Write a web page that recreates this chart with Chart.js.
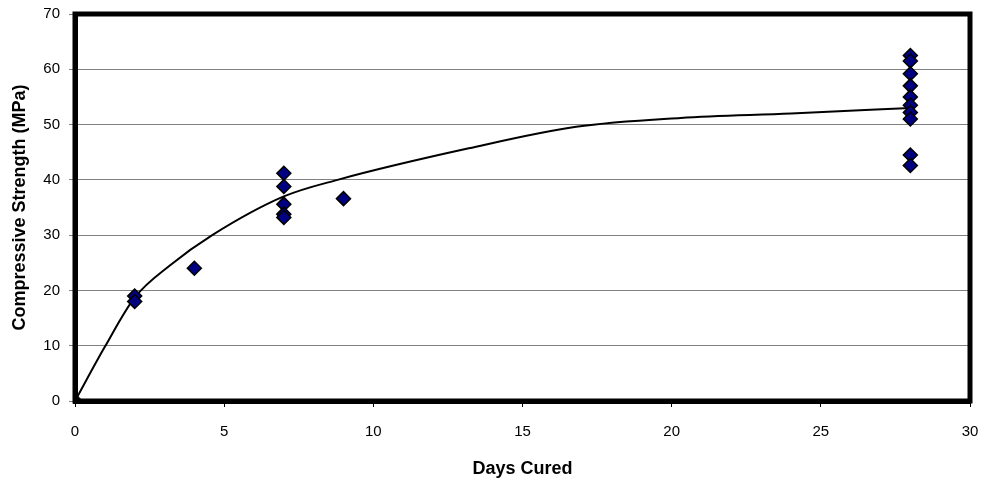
<!DOCTYPE html>
<html>
<head>
<meta charset="utf-8">
<script src="https://cdn.jsdelivr.net/npm/chart.js@4"></script>
<style>
  html, body { margin: 0; padding: 0; background: #fff; }
  #wrap { width: 984px; height: 486px; }
</style>
</head>
<body>
<div id="wrap"><canvas id="chart"></canvas></div>
<script>
// measured specimens
const testDays = [0, 2, 2, 4, 7, 7, 7, 7, 7, 9,
  28, 28, 28, 28, 28, 28, 28, 28, 28, 28];
const strengths = [0, 19, 18, 24, 41.2, 38.8, 35.6, 33.8, 33.2, 36.6,
  62.5, 61.5, 59.2, 57, 55, 53.5, 52.2, 51, 44.5, 42.6];

// smoothed trend curve
const curveDays = [0, 1, 2, 3.2, 4.6, 7, 8.8, 13.2, 16.8, 20.3, 24, 28];
const curveValues = [0, 9.8, 18.7, 24.6, 30, 37, 40, 45.7, 49.6, 51.2, 52, 53];

const xTicks = [0, 5, 10, 15, 20, 25, 30];
const yTicks = [0, 10, 20, 30, 40, 50, 60, 70];

const FONT = "'Liberation Sans Narrow', 'Arial Narrow', 'Liberation Sans', Arial, sans-serif";

// thick frame round the plot area
const framePlugin = {
  id: "frame",
  afterDatasetsDraw(chart) {
    const a = chart.chartArea;
    const ctx = chart.ctx;
    ctx.save();
    ctx.strokeStyle = "#000";
    ctx.lineWidth = 5;
    ctx.strokeRect(a.left, a.top, a.right - a.left, a.bottom - a.top);
    ctx.restore();
  }
};

new Chart(document.getElementById("chart"), {
  type: "scatter",
  data: {
    datasets: [
      {
        label: "Measured",
        data: testDays.map((d, i) => ({ x: d, y: strengths[i] })),
        pointStyle: "rectRot",
        pointRadius: 7,
        backgroundColor: "#000080",
        borderColor: "#000",
        borderWidth: 1.5,
        order: 0
      },
      {
        label: "Trend",
        data: curveDays.map((d, i) => ({ x: d, y: curveValues[i] })),
        showLine: true,
        pointRadius: 0,
        borderColor: "#000",
        borderWidth: 2,
        cubicInterpolationMode: "monotone",
        fill: false,
        order: 1
      }
    ]
  },
  plugins: [framePlugin],
  options: {
    responsive: true,
    maintainAspectRatio: false,
    animation: false,
    layout: { padding: { top: 14, right: 14, bottom: 4, left: 4 } },
    plugins: {
      legend: { display: false },
      tooltip: { enabled: false }
    },
    scales: {
      x: {
        type: "linear",
        min: 0,
        max: 30,
        afterBuildTicks: (axis) => { axis.ticks = xTicks.map(v => ({ value: v })); },
        afterFit: (axis) => {
          axis.height = 81;
          axis.paddingLeft = 0;
          axis.paddingRight = 9;
        },
        border: { display: true, color: "#000", width: 5 },
        grid: { drawOnChartArea: false, drawTicks: true, tickLength: 6, color: "#000" },
        ticks: { color: "#000", padding: 16, font: { family: FONT, size: 15 } },
        title: {
          display: true,
          text: "Days Cured",
          color: "#000",
          padding: { top: 10, bottom: 2 },
          font: { family: FONT, size: 18, weight: "bold" }
        }
      },
      y: {
        min: 0,
        max: 70,
        afterBuildTicks: (axis) => { axis.ticks = yTicks.map(v => ({ value: v })); },
        afterFit: (axis) => {
          axis.width = 71;
          axis.paddingTop = 9;
          axis.paddingBottom = 9;
        },
        border: { display: true, color: "#000", width: 5 },
        grid: { color: "#808080", lineWidth: 1, tickLength: 6 },
        ticks: { color: "#000", padding: 9, font: { family: FONT, size: 15 } },
        title: {
          display: true,
          text: "Compressive Strength (MPa)",
          color: "#000",
          padding: 5,
          font: { family: FONT, size: 18, weight: "bold" }
        }
      }
    }
  }
});
</script>
</body>
</html>
